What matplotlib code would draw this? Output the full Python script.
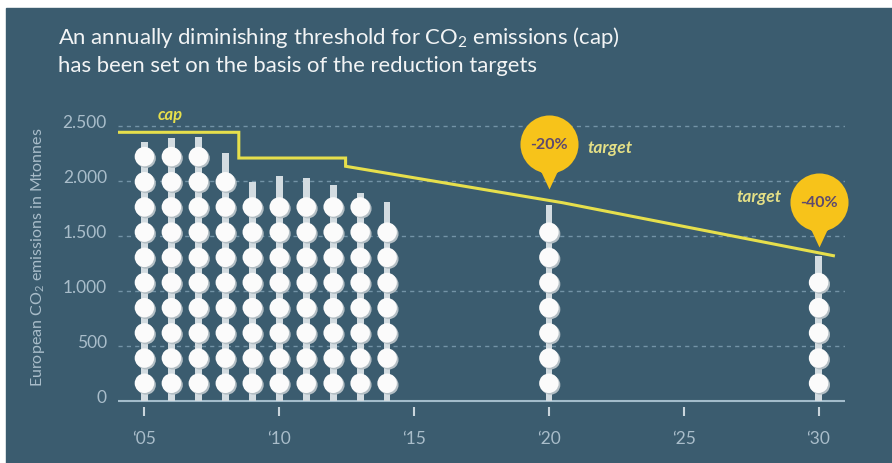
import numpy as np
import matplotlib.pyplot as plt
import matplotlib.patheffects as pe
from matplotlib.path import Path
from matplotlib.patches import Rectangle
from matplotlib.transforms import ScaledTranslation

plt.rcParams['font.family'] = ['Lato', 'DejaVu Sans']
plt.rcParams['mathtext.fontset'] = 'custom'
plt.rcParams['mathtext.rm'] = 'Lato'
plt.rcParams['mathtext.it'] = 'Lato:italic'

# emissions per year (Mtonnes)
years = [2005, 2006, 2007, 2008, 2009, 2010, 2011, 2012, 2013, 2014, 2020, 2030]
emissions = [2355, 2385, 2395, 2250, 1985, 2040, 2025, 1960, 1890, 1805, 1780, 1315]
balls = [10, 10, 10, 9, 8, 8, 8, 8, 8, 7, 7, 5]

# cap line
cap_years = [2004.0, 2008.5, 2008.5, 2012.46, 2012.46, 2020.5, 2030.55]
cap_values = [2440, 2440, 2206, 2206, 2131, 1800, 1318]

target_years = [2020, 2030]
target_labels = ['-20%', '-40%']

y_ticks = [0, 500, 1000, 1500, 2000, 2500]
y_tick_labels = ['0', '500', '1.000', '1.500', '2.000', '2.500']
x_ticks = [2005, 2010, 2015, 2020, 2025, 2030]
x_tick_labels = ['\u201805', '\u201810', '\u201815', '\u201820', '\u201825', '\u201830']

BG = '#3b5c6f'
BAR = '#d3dce1'
CAP = '#e6df4c'
GOLD = '#f7c31a'
AXIS_TXT = '#a9bdca'

W, H = 892, 464
fig = plt.figure(figsize=(W / 100, H / 100), dpi=100, facecolor='white')
fig.add_artist(Rectangle((6 / W, 0), 1, (H - 9) / H, transform=fig.transFigure,
                         color=BG, zorder=-10))

# axes: 0 at y px 401.7, 0.11 px per Mt; x: 2005 at 144.3, 26.97 px/year
ax = fig.add_axes([118 / W, (H - 407.7) / H, 727 / W, 314 / H])
ax.set_facecolor('none')
ax.set_xlim(2004.02, 2030.98)
ax.set_ylim(-55, 2800)
for s in ax.spines.values():
    s.set_visible(False)

# grid
for v in y_ticks[1:]:
    ax.axhline(v, color='#7393a6', lw=1, dashes=(3, 3), zorder=0)
ax.axhline(0, color='#a3bccb', lw=1.5, zorder=1)

# bars and balls
ax.bar(years, emissions, width=0.25, color=BAR, zorder=3)
ball_x, ball_y = [], []
for yr, n in zip(years, balls):
    for i in range(n):
        ball_x.append(yr)
        ball_y.append(158 + 229 * i)
ax.scatter(ball_x, ball_y, s=197, color='#fbfbfb', linewidths=0, zorder=4,
           path_effects=[pe.SimplePatchShadow(offset=(1.2, -1.2), shadow_rgbFace='#b3bec4', alpha=1),
                         pe.Normal()])

# cap
ax.plot(cap_years, cap_values, color=CAP, lw=2.2, zorder=2, solid_joinstyle='miter')
ax.text(2005.96, 2606, 'cap', color=CAP, fontsize=12, fontstyle='italic',
        fontweight='bold', ha='center', va='center')

# balloons: circle with pointer
circ = Path.unit_circle()
tri = Path([(-0.35, -0.8), (0, -1.55), (0.35, -0.8), (-0.35, -0.8)],
           [Path.MOVETO, Path.LINETO, Path.LINETO, Path.CLOSEPOLY])
balloon = Path.make_compound_path(circ, tri)
balloon_y = [2334, 1809]
ax.scatter(target_years, balloon_y, s=4199, marker=balloon, color=GOLD,
           linewidths=0, zorder=6, clip_on=False)
for x, y, lab in zip(target_years, balloon_y, target_labels):
    ax.text(x, y, lab, color='#5e4a6e', fontsize=11.5, fontweight='bold',
            ha='center', va='center', zorder=7)
ax.text(2021.42, 2306, 'target', color='#e4df86', fontsize=12.5,
        fontstyle='italic', fontweight='bold', ha='left', va='center')
ax.text(2028.64, 1861, 'target', color='#e4df86', fontsize=12.5,
        fontstyle='italic', fontweight='bold', ha='right', va='center')

# ticks
ax.set_yticks(y_ticks, y_tick_labels)
ax.tick_params(axis='y', length=0, pad=8, labelsize=12.5, labelcolor=AXIS_TXT)
off = ScaledTranslation(0, 0.05, fig.dpi_scale_trans)
for lab in ax.get_yticklabels():
    lab.set_transform(lab.get_transform() + off)
ax.set_xticks(x_ticks, x_tick_labels)
ax.tick_params(axis='x', length=6.5, width=1.5, color='#c9d5dc', pad=10,
               labelsize=12.5, labelcolor=AXIS_TXT)

fig.text(38 / W, 1 - 257 / H, 'European CO$_2$ emissions in Mtonnes', rotation=90,
         color=AXIS_TXT, fontsize=11.5, ha='center', va='center')

fig.text(58 / W, 1 - 37 / H, 'An annually diminishing threshold for CO$_2$ emissions (cap)',
         color='#f2f4f5', fontsize=15.9, va='center')
fig.text(58 / W, 1 - 66 / H, 'has been set on the basis of the reduction targets',
         color='#f2f4f5', fontsize=15.9, va='center')

fig.savefig('out.png', dpi=100, facecolor='white')
